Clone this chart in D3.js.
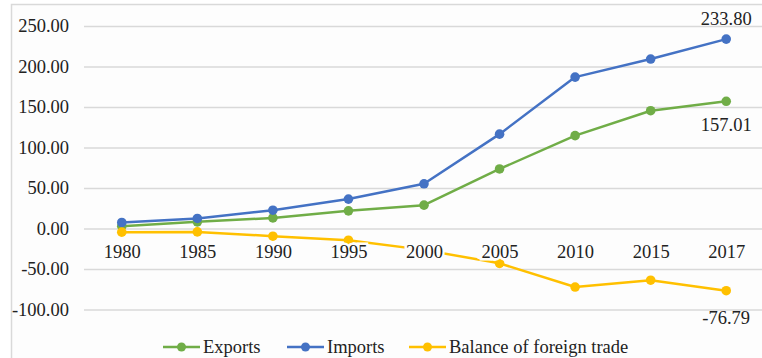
<!DOCTYPE html>
<html>
<head>
<meta charset="utf-8">
<script src="https://cdn.jsdelivr.net/npm/d3@7/dist/d3.min.js"></script>
<style>
  html, body { margin: 0; padding: 0; background: #ffffff; }
  svg { display: block; }
  text { font-family: "Liberation Serif", "Times New Roman", serif; fill: #222; }
</style>
</head>
<body>
<svg id="chart" width="762" height="358"></svg>
<script>
// Foreign trade, billion USD
const years = ["1980", "1985", "1990", "1995", "2000", "2005", "2010", "2015", "2017"];
const exportsVals = [2.9, 8.2, 13.1, 21.8, 28.8, 73.5, 114.6, 145.4, 157.01];
const importsVals = [7.4, 12.4, 22.6, 36.3, 55.2, 116.5, 186.9, 209.2, 233.80];
const balanceVals = [-4.5, -4.2, -9.5, -14.5, -26.4, -43.0, -72.3, -63.8, -76.79];
const yTicks = [-100, -50, 0, 50, 100, 150, 200, 250];

const seriesList = [
  { name: "Exports", values: exportsVals, color: "#70ad47" },
  { name: "Imports", values: importsVals, color: "#4472c4" },
  { name: "Balance of foreign trade", values: balanceVals, color: "#ffc000" }
];

const FONT = "'Liberation Serif', 'Times New Roman', serif";
const FS = "18.5px";

const svg = d3.select("#chart");
const W = 762, H = 358;
const plotLeft = 84, plotRight = 764;

// chart area background and frame
svg.append("rect")
  .attr("x", 11.5).attr("y", 4.5)
  .attr("width", W + 10).attr("height", H + 10)
  .attr("fill", "#fdfdfd")
  .attr("stroke", "#d9d9d9").attr("stroke-width", 1.5);

const x = d3.scalePoint().domain(years).range([plotLeft, plotRight]).padding(0.5);
const y = d3.scaleLinear().domain([-100, 250]).range([309.5, 26]);

// two decimals, plain hyphen for negatives
const f2 = d3.format(".2f");
const fmt = v => f2(v).replace("\u2212", "-");

// horizontal gridlines
const grid = svg.append("g")
  .attr("transform", `translate(${plotLeft},0)`)
  .call(d3.axisLeft(y).tickValues(yTicks).tickSize(-(plotRight - plotLeft)).tickFormat(""));
grid.select(".domain").remove();
grid.selectAll(".tick line").attr("stroke", "#d9d9d9").attr("stroke-width", 1.5);

// y-axis labels
const yAxis = svg.append("g")
  .attr("transform", `translate(${plotLeft - 15},0)`)
  .call(d3.axisLeft(y).tickValues(yTicks).tickSize(0).tickFormat(fmt));
yAxis.select(".domain").remove();
yAxis.attr("font-family", null).attr("font-size", null);
yAxis.selectAll("text")
  .attr("x", 0)
  .style("font-size", FS)
  .style("font-family", FONT)
  .attr("fill", "#222");

// series lines and markers
const line = d3.line()
  .x((d, i) => x(years[i]))
  .y(d => y(d));

seriesList.forEach(s => {
  const g = svg.append("g");
  g.append("path")
    .datum(s.values)
    .attr("d", line)
    .attr("fill", "none")
    .attr("stroke", s.color)
    .attr("stroke-width", 2.5)
    .attr("stroke-linejoin", "round");
  g.selectAll("circle")
    .data(s.values)
    .join("circle")
    .attr("cx", (d, i) => x(years[i]))
    .attr("cy", d => y(d))
    .attr("r", 4.8)
    .attr("fill", s.color);
});

// category labels sit next to the zero line, over the series
const xAxis = svg.append("g")
  .attr("transform", `translate(0,${y(0)})`)
  .call(d3.axisBottom(x).tickSize(0));
xAxis.select(".domain").remove();
xAxis.attr("font-family", null).attr("font-size", null);
xAxis.selectAll("text")
  .attr("dy", 0)
  .attr("y", 29)
  .style("font-size", FS)
  .style("font-family", FONT)
  .attr("fill", "#222")
  .attr("stroke", "#fdfdfd")
  .attr("stroke-width", 5)
  .attr("paint-order", "stroke");

// value labels at the last point
const last = years.length - 1;
const valueLabels = [
  { v: importsVals[last], dy: -14 },
  { v: exportsVals[last], dy: 30 },
  { v: balanceVals[last], dy: 33 }
];
svg.append("g").selectAll("text")
  .data(valueLabels)
  .join("text")
  .attr("x", x(years[last]))
  .attr("y", d => y(d.v) + d.dy)
  .attr("text-anchor", "middle")
  .style("font-size", FS)
  .style("font-family", FONT)
  .text(d => fmt(d.v));

// legend
const legendItems = [
  { s: seriesList[0], x0: 163 },
  { s: seriesList[1], x0: 287 },
  { s: seriesList[2], x0: 409 }
];
const lg = svg.append("g").attr("transform", "translate(0,347)");
legendItems.forEach(it => {
  lg.append("line")
    .attr("x1", it.x0).attr("x2", it.x0 + 37)
    .attr("y1", 0).attr("y2", 0)
    .attr("stroke", it.s.color).attr("stroke-width", 2.5);
  lg.append("circle")
    .attr("cx", it.x0 + 18.5).attr("cy", 0).attr("r", 4.5)
    .attr("fill", it.s.color);
  lg.append("text")
    .attr("x", it.x0 + 40).attr("y", 6)
    .style("font-size", FS)
    .style("font-family", FONT)
    .text(it.s.name);
});
</script>
</body>
</html>
